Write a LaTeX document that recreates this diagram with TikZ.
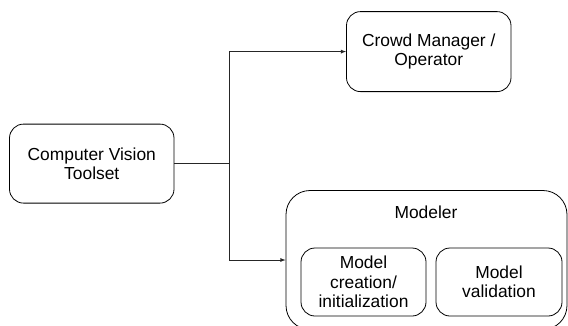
\documentclass[tikz,border=0pt]{standalone}
\usepackage{fontspec}
\setmainfont{Liberation Sans}
\usepackage{tikz}
\usetikzlibrary{arrows,shapes}

\begin{document}
\begin{tikzpicture}[x=1pt, y=-1pt, >=latex, box/.style={draw, rounded corners=14pt, line width=0.8pt, align=center, font=\fontsize{17.4}{19.5}\selectfont, inner sep=0pt}, big box/.style={box, rounded corners=24pt}, link/.style={line width=0.8pt, draw=black!85}]
\clip (0,0) rectangle (568,325);
\useasboundingbox (0,0) rectangle (568,325);
\node[box, minimum width=164.5pt, minimum height=79pt] (vision) at (91.75,163.6) {Computer Vision\\Toolset};
\node[box, minimum width=164.5pt, minimum height=80pt] (crowd) at (428.75,51.6) {Crowd Manager /\\Operator};
\node[big box, minimum width=281pt, minimum height=139pt] (modeler) at (426.5,260) {};
\node[font=\fontsize{17.4}{19.5}\selectfont] (modtitle) at (426,212) {Modeler};
\node[box, minimum width=125pt, minimum height=68pt] (creation) at (363.5,282) {Model\\creation/\\initialization};
\node[box, minimum width=126pt, minimum height=68pt] (validation) at (499,282) {Model\\validation};
\coordinate (split) at (229,163.6);
\draw [link] (vision) -- (split);
\draw [link,->] (split) |- (crowd);
\draw [link,->] (split) |- (modeler);
\end{tikzpicture}
\end{document}
